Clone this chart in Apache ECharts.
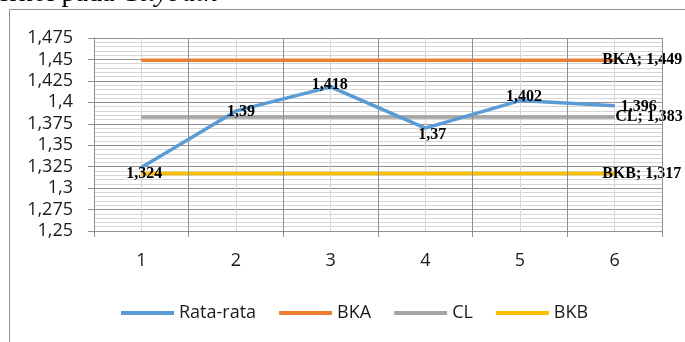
<!DOCTYPE html>
<html>
<head>
<meta charset="utf-8">
<script src="https://cdn.jsdelivr.net/npm/echarts@6/dist/echarts.min.js"></script>
<style>
  html, body { margin: 0; padding: 0; background: #ffffff; }
  #chart { width: 685px; height: 342px; }
</style>
</head>
<body>
<div id="chart"></div>
<script>
// Sample numbers along the x axis
const categories = ['1', '2', '3', '4', '5', '6'];
// Mean of each sample
const rataRata = [1.324, 1.39, 1.418, 1.37, 1.402, 1.396];
// Control limits: upper (BKA), centre (CL), lower (BKB)
const bka = [1.449, 1.449, 1.449, 1.449, 1.449, 1.449];
const cl = [1.383, 1.383, 1.383, 1.383, 1.383, 1.383];
const bkb = [1.317, 1.317, 1.317, 1.317, 1.317, 1.317];
// Value axis ticks
const yTicks = [1.25, 1.275, 1.3, 1.325, 1.35, 1.375, 1.4, 1.425, 1.45, 1.475];

// Label nudges for the mean line (pixels, relative to each point)
const rataLabelOffsets = [[3, 6], [5, 1], [-1, -2], [7, 7], [4, -4], [24, 1]];

const fmt = v => String(parseFloat(Number(v).toFixed(3))).replace('.', ',');

const MAJOR = '#8f8f8f';
const MINOR = '#d6d6d6';
const TEXT = '#1a1a1a';
const labelFont = { fontFamily: 'Liberation Serif', fontWeight: 'bold', fontSize: 16, color: '#000' };

function limitSeries(name, values, color, labelOffset) {
  return {
    name: name,
    type: 'line',
    z: 2,
    symbol: 'circle',
    symbolSize: 1,
    itemStyle: { color: color },
    lineStyle: { color: color, width: 3.5 },
    data: values.map((v, i) => ({
      value: v,
      label: i === values.length - 1
        ? Object.assign({ show: true, position: 'right', distance: 0, offset: labelOffset,
            formatter: p => name + '; ' + fmt(p.value) }, labelFont)
        : { show: false }
    }))
  };
}

const chart = echarts.init(document.getElementById('chart'), null, { renderer: 'canvas' });

chart.setOption({
  backgroundColor: '#ffffff',
  animation: false,
  graphic: [
    {
      type: 'rect',
      shape: { x: 9.5, y: 9.5, width: 700, height: 400 },
      style: { fill: 'none', stroke: '#8e8e8e', lineWidth: 1 },
      z: 0
    },
    {
      type: 'text',
      x: -3, y: 8,
      style: {
        text: '{n|erhol pada }{i|Citybath}',
        verticalAlign: 'bottom',
        rich: {
          n: { fontFamily: 'Liberation Serif', fontSize: 28, fill: '#000' },
          i: { fontFamily: 'Liberation Serif', fontStyle: 'italic', fontSize: 28, fill: '#000' }
        }
      },
      z: 10
    }
  ],
  grid: { left: 94, right: 23, top: 38, bottom: 111, containLabel: false },
  legend: {
    left: 116,
    top: 299,
    icon: 'rect',
    itemWidth: 53,
    itemHeight: 4,
    itemGap: 23,
    textStyle: { fontFamily: 'Open Sans', fontSize: 18, color: TEXT },
    data: ['Rata-rata', 'BKA', 'CL', 'BKB']
  },
  xAxis: [
    {
      type: 'category',
      data: categories,
      boundaryGap: true,
      z: 3,
      axisLine: { lineStyle: { color: MAJOR, width: 1 } },
      axisTick: { show: true, length: 6, lineStyle: { color: MAJOR } },
      axisLabel: { fontFamily: 'Open Sans', fontSize: 18, color: TEXT, margin: 21 },
      splitLine: { show: true, lineStyle: { color: MAJOR, width: 1 } }
    },
    {
      // half-category grid for the lighter vertical lines
      type: 'value',
      min: 0, max: 12, interval: 1,
      position: 'bottom',
      z: 1,
      axisLine: { show: false },
      axisTick: { show: false },
      axisLabel: { show: false },
      splitLine: { show: true, lineStyle: { color: MINOR, width: 1 } }
    }
  ],
  yAxis: {
    type: 'value',
    min: yTicks[0],
    max: yTicks[yTicks.length - 1],
    interval: 0.025,
    axisLine: { show: true, lineStyle: { color: MAJOR, width: 1 } },
    axisTick: { show: true, length: 6, lineStyle: { color: MAJOR } },
    axisLabel: { fontFamily: 'Open Sans', fontSize: 18, color: TEXT, margin: 21, formatter: v => fmt(v) },
    splitLine: { show: true, lineStyle: { color: MAJOR, width: 1 } },
    minorTick: { show: false, splitNumber: 5 },
    minorSplitLine: { show: true, lineStyle: { color: MINOR, width: 1 } }
  },
  series: [
    {
      name: 'Rata-rata',
      type: 'line',
      z: 3,
      symbol: 'circle',
      symbolSize: 1,
      itemStyle: { color: '#5b9bd5' },
      lineStyle: { color: '#5b9bd5', width: 3.5 },
      label: Object.assign({ show: true, position: 'inside', formatter: p => fmt(p.value) }, labelFont),
      data: rataRata.map((v, i) => ({ value: v, label: { offset: rataLabelOffsets[i] } }))
    },
    limitSeries('BKA', bka, '#ed7d31', [-13, 0]),
    limitSeries('CL', cl, '#a5a5a5', [0, 0]),
    limitSeries('BKB', bkb, '#ffc000', [-13, 0])
  ]
});
</script>
</body>
</html>
